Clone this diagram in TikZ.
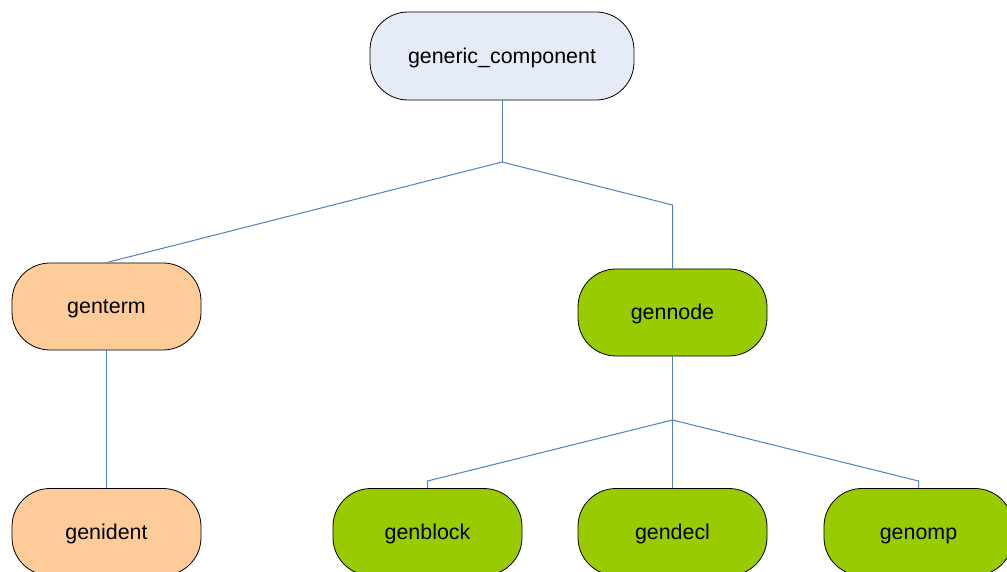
\documentclass[tikz,border=0pt]{standalone}
\usepackage{fontspec}
\setmainfont{Liberation Sans}
\definecolor{lnblue}{HTML}{4F81BD}
\definecolor{topfill}{HTML}{E6ECF7}
\definecolor{orfill}{HTML}{FFCC99}
\definecolor{grfill}{HTML}{99CC00}
\tikzset{
  box/.style={draw=black, line width=0.8pt, rounded corners=38pt, minimum height=87pt,
    font=\fontsize{21.4}{25}\selectfont, inner sep=0pt, text height=19pt, text depth=4.5pt},
  smallbox/.style={box, minimum width=189pt},
  conn/.style={draw=lnblue, line width=1pt},
}
\begin{document}
\begin{tikzpicture}[x=1pt,y=-1pt]
\useasboundingbox (0,0) rectangle (1007,572);
\clip (0,0) rectangle (1007,572);
\node[box, fill=topfill, minimum width=264pt, minimum height=88pt] (gc) at (502,56) {generic\_component};
\node[smallbox, fill=orfill] (gt) at (106.5,306.5) {genterm};
\node[smallbox, fill=grfill] (gn) at (672.5,312.5) {gennode};
\node[smallbox, fill=orfill] (gi) at (106.5,532) {genident};
\node[smallbox, fill=grfill] (gb) at (427.5,532) {genblock};
\node[smallbox, fill=grfill] (gd) at (672.5,532) {gendecl};
\node[smallbox, fill=grfill] (go) at (918.5,532) {genomp};
\coordinate (j1) at (502,162);
\coordinate (j2) at (672.5,420);
\draw[conn] (gc.south) -- (j1);
\draw[conn] (j1) -- (gt.north);
\draw[conn] (j1) -- (672.5,205) -- (gn.north);
\draw[conn] (gt.south) -- (gi.north);
\draw[conn] (gn.south) -- (j2);
\draw[conn] (j2) -- (427.5,481) -- (gb.north);
\draw[conn] (j2) -- (gd.north);
\draw[conn] (j2) -- (918.5,481) -- (go.north);
\end{tikzpicture}
\end{document}
